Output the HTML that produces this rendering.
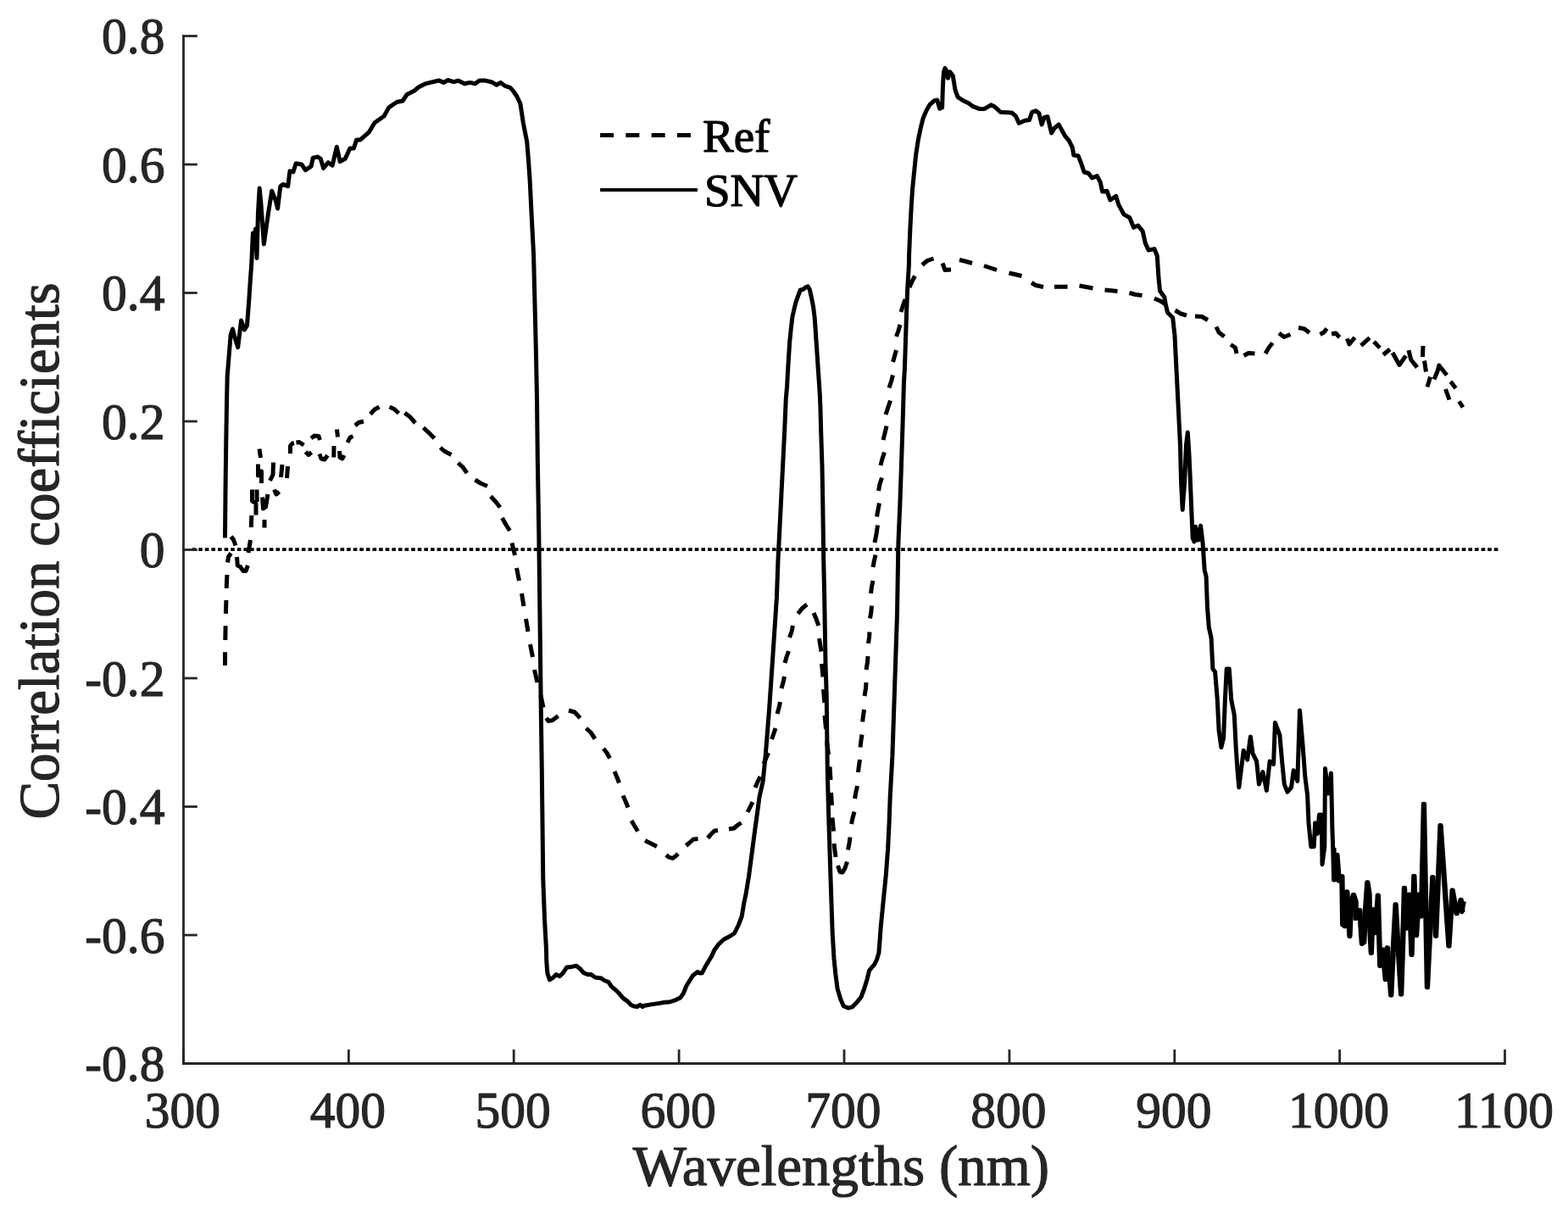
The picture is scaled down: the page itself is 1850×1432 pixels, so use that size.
<!DOCTYPE html><html><head><meta charset="utf-8"><title>Correlation coefficients</title>
<style>html,body{margin:0;padding:0;background:#fff;width:1850px;height:1432px;overflow:hidden}svg{display:block}text{font-family:"Liberation Serif","Times New Roman",serif;stroke-width:1.20px;stroke-linejoin:round}.g{fill:#262626;stroke:#262626}.k{fill:#000;stroke:#000}</style></head><body>
<svg width="1850" height="1432" viewBox="0 0 1850 1432">
<rect width="1850" height="1432" fill="#fff"/>
<line x1="226.6" y1="648.1" x2="1767.6" y2="648.1" stroke="#000" stroke-width="3.9" stroke-dasharray="4.6 3.005"/>
<path d="M265.5 785.1L265.6 769.2M265.8 755.0L266.1 738.2M266.4 723.9L266.9 708.0M267.2 693.9L267.9 678.0M268.5 663.5L269.5 657.0L272.5 652.5M272.5 633.0L275.5 636.5L278.0 643.5M279.5 657.0L280.3 667.0L283.5 668.5L287.0 673.5L290.0 673.5L292.5 667.0M293.0 652.0L295.5 637.0M296.3 622.0L296.8 608.0M297.5 577.5L297.5 591.0L302.0 594.0L302.0 607.5M303.0 577.5L303.2 592.0M309.5 586.5L310.5 600.0L313.5 598.0L316.0 583.0M312.0 613.0L312.0 622.5M323.5 577.5L326.0 583.0L329.5 580.0M304.5 547.5L304.5 561.0L308.5 556.0L308.5 570.0M322.5 545.5L322.0 560.0L318.5 567.0M333.0 548.0L331.5 563.0M339.5 550.0L338.5 564.0M306.0 529.5L307.5 540.0M342.5 535.0L342.5 526.0L345.0 523.0L347.0 522.5M349.5 522.0L353.0 521.5L358.5 525.0M360.5 533.0L364.0 536.5L367.5 533.5M367.0 517.0L371.0 514.0L376.0 514.5L377.5 519.0M377.0 535.5L379.0 541.0L383.0 542.0L386.5 537.0M393.8 539.5L394.0 526.0M397.5 506.5L398.5 515.5M400.5 532.0L401.0 539.5L404.0 541.0L406.0 537.0M410.0 522.0L413.0 516.0L416.5 514.5M419.0 502.0L423.0 498.5L429.0 497.0M437.0 488.5L442.0 483.0L447.5 480.0M459.5 480.0L465.0 482.5L470.5 487.5M477.5 487.0L484.0 492.0L490.0 499.0M499.5 504.5L506.0 510.5L512.5 517.0M519.5 528.0L524.0 532.0L532.5 536.5M540.5 546.0L546.0 551.0L551.0 558.0M560.5 566.0L567.0 570.0L575.0 573.5M579.0 585.5L585.0 592.0L590.0 598.5M592.5 611.0L597.0 619.0L601.5 626.0M604.0 640.5L607.5 655.0M609.5 670.0L612.5 685.0M615.5 700.0L618.0 715.0M620.5 730.0L623.0 745.0M625.5 760.0L628.5 775.0M630.5 790.0L634.0 805.0M638.0 820.0L641.0 834.5M644.5 847.0L647.0 850.5L652.0 849.5L658.5 844.5M671.0 838.0L678.0 840.0L684.5 847.0M691.5 859.0L697.0 864.0L702.0 871.5M712.0 883.0L716.0 888.0L719.5 894.5M725.0 910.0L728.0 917.0L730.5 923.5M735.0 938.5L738.0 945.0L741.0 952.5M745.0 968.0L748.5 974.0L752.5 980.5M761.0 991.5L768.0 995.0L775.0 998.5M786.0 1008.5L789.0 1011.0L793.5 1012.5L797.0 1010.0L800.0 1007.0M809.5 997.5L813.0 994.5L818.0 990.0L823.5 989.5M835.0 988.5L839.0 984.0L843.0 980.0L847.0 979.5M860.0 978.0L866.0 977.0L870.0 973.5L874.5 970.5M882.0 958.0L885.0 952.0L888.0 946.0M891.0 929.0L894.0 922.0L897.0 916.0M901.0 901.0L904.0 894.0L906.5 888.0M910.5 872.0L913.0 865.0L915.0 859.0M917.0 842.0L919.0 835.0L920.5 828.0M922.0 812.0L924.0 805.0L925.5 798.0M926.0 782.0L928.0 775.0L930.5 768.0M931.5 752.0L934.0 745.0L935.5 738.0M941.5 724.0L946.0 718.0L952.0 713.0M960.0 723.0L963.0 730.0L965.8 738.0M966.5 753.0L969.0 768.5M969.5 783.0L971.0 798.5M971.5 813.0L972.8 829.0M973.0 844.0L974.5 860.0M975.5 874.0L977.5 890.0M979.0 904.5L980.0 920.0M980.5 935.0L981.5 950.0M982.0 964.5L983.5 980.5M984.0 995.0L986.0 1011.0M988.5 1021.0L991.0 1028.5L994.0 1029.0L997.0 1024.0L999.5 1016.5M1000.5 1002.5L1002.0 995.0L1003.0 987.5M1004.5 972.0L1006.0 965.0L1008.0 957.5M1008.5 942.0L1010.0 934.0L1011.5 927.0M1012.4 911.0L1013.5 903.0L1014.5 896.0M1015.0 881.5L1016.0 873.0L1017.0 866.5M1017.6 851.5L1018.5 844.0L1019.6 837.0M1020.0 821.0L1021.5 812.0L1022.0 805.0M1022.0 790.0L1023.5 781.0L1024.0 774.0M1024.5 759.0L1025.5 752.0L1026.0 745.5M1026.5 729.5L1027.8 722.0L1028.5 714.5M1027.5 700.0L1028.5 692.0L1030.0 685.0M1030.0 669.0L1031.5 661.0L1033.0 654.5M1032.0 640.0L1034.0 630.0L1035.5 619.5M1034.5 609.5L1036.0 601.0L1037.5 593.5M1036.5 579.0L1038.0 571.0L1040.5 563.5M1039.0 549.0L1041.0 541.0L1043.5 533.5M1042.0 519.0L1044.0 511.0L1046.0 502.5M1045.0 489.0L1048.0 480.0L1050.5 472.5M1049.0 457.5L1051.5 450.0L1053.5 442.5M1053.5 427.0L1055.5 420.0L1057.5 413.0M1057.5 397.0L1060.0 390.0L1062.0 383.0M1063.0 368.0L1065.5 360.0L1068.0 353.0M1073.0 339.0L1076.0 332.0L1079.5 325.5M1088.0 312.5L1094.0 307.5L1101.5 305.0M1112.0 310.5L1115.0 318.5L1122.0 318.0M1132.0 306.5L1140.0 308.5L1147.0 310.5M1161.0 313.5L1176.0 318.5M1190.5 322.0L1205.5 325.5M1217.0 333.5L1222.0 336.5L1231.0 338.5M1244.0 338.3L1259.5 338.3M1273.5 337.0L1289.5 340.0M1303.5 342.0L1318.5 343.5M1332.5 345.5L1340.0 347.5L1347.5 348.5M1362.0 352.0L1369.0 355.0L1375.5 359.0M1386.5 366.0L1393.0 370.0L1400.0 372.0M1410.0 373.0L1418.0 373.5L1425.0 377.5M1435.0 385.5L1438.0 392.0L1444.5 397.0M1452.0 406.5L1457.5 410.0L1459.0 417.0M1467.5 419.5L1473.0 416.5L1480.5 417.0M1493.0 417.0L1497.0 410.0L1501.5 404.5M1509.0 393.0L1515.0 397.5L1522.5 394.5M1532.0 386.5L1539.0 388.0L1545.0 392.5M1557.5 394.5L1562.0 392.0L1565.5 387.5M1571.0 394.0L1576.0 393.0L1580.5 398.0M1589.3 399.4L1592.0 406.0L1598.5 398.0M1605.8 407.7L1616.0 398.5M1621.0 403.0L1628.0 410.4M1632.0 418.5L1638.0 413.5L1640.0 412.0M1643.0 416.0L1651.0 430.5L1658.7 419.6M1662.0 413.2L1664.7 424.2L1672.0 433.4M1679.0 408.0L1678.5 421.0M1680.5 425.5L1682.5 438.5M1687.6 444.5L1684.0 456.4M1692.0 447.5L1696.0 438.0L1697.8 431.0L1707.0 442.5M1705.5 459.0L1710.0 471.5M1711.5 450.0L1717.5 458.0M1721.5 473.5L1726.0 480.5" fill="none" stroke="#000" stroke-width="5.0" stroke-linejoin="round" stroke-linecap="butt"/>
<path d="M265.5 634.5L266.0 580.0L266.7 525.5L267.6 470.9L268.2 443.6L270.4 416.4L272.2 394.5L274.5 388.2L277.0 398.0L280.7 409.7L284.6 378.0L288.4 389.0L291.5 384.0L293.8 353.6L295.3 330.6L296.8 310.6L297.6 292.0L298.4 275.0L300.0 290.0L301.5 270.0L303.0 304.5L304.5 250.0L306.2 221.9L307.9 240.0L311.4 288.0L316.0 255.0L320.7 225.3L325.2 236.4L327.6 246.0L330.8 219.7L334.1 217.4L339.7 219.7L342.0 201.8L345.9 202.9L349.2 192.8L355.9 194.0L360.4 200.7L367.1 196.2L369.3 186.1L374.9 185.0L378.3 187.3L381.6 198.4L387.2 191.7L392.2 195.1L397.3 173.3L401.2 190.6L407.3 187.3L412.9 175.0L417.4 175.0L420.7 164.9L425.2 164.9L430.8 159.9L435.3 156.0L442.0 144.8L453.1 137.0L458.7 126.9L464.3 123.0L468.8 120.2L475.1 119.0L480.1 111.5L488.9 107.1L493.9 102.7L501.5 98.9L510.3 96.7L517.8 94.9L523.5 97.4L528.5 94.5L535.4 96.6L540.5 95.1L548.0 98.7L554.3 97.4L560.6 98.7L565.6 95.1L573.1 95.1L580.7 97.0L585.7 100.2L590.7 97.4L595.8 101.4L602.0 103.3L605.0 106.7L609.5 113.0L613.9 122.3L617.3 144.6L619.5 156.0L621.7 167.0L623.5 189.0L625.1 211.6L627.3 256.3L629.6 300.9L630.7 345.5L631.8 390.2L632.5 419.6L633.5 470.0L634.3 541.0L635.8 630.0L636.9 720.0L638.2 832.0L639.3 909.3L640.8 1038.0L642.5 1083.7L644.5 1120.0L644.8 1134.1L645.9 1148.1L648.4 1155.8L651.9 1153.7L656.1 1149.5L660.3 1151.6L664.5 1147.4L668.7 1141.1L674.4 1140.4L680.0 1139.3L684.2 1142.5L688.4 1147.4L693.3 1149.5L696.8 1149.2L702.5 1153.0L708.8 1153.7L713.0 1156.5L717.9 1158.3L721.4 1163.6L726.4 1167.8L730.6 1172.0L735.5 1177.6L740.4 1181.1L744.6 1185.4L747.4 1186.8L751.7 1187.5L755.2 1185.4L758.0 1187.5L760.0 1186.3L768.0 1184.9L776.6 1183.6L784.6 1182.3L789.9 1182.0L797.2 1179.6L802.5 1177.0L806.4 1171.7L809.8 1163.0L813.1 1157.7L817.7 1150.4L823.0 1146.4L826.0 1148.0L828.3 1147.8L831.7 1141.1L836.3 1133.2L839.6 1127.9L842.9 1120.6L848.3 1113.3L854.2 1108.0L859.5 1105.3L866.4 1101.0L871.4 1091.0L875.2 1080.9L877.7 1065.8L880.3 1053.2L883.4 1034.3L885.9 1015.5L888.4 996.6L890.9 977.7L893.5 958.9L896.0 940.0L900.2 921.4L903.4 888.9L907.7 834.8L912.1 769.9L916.4 704.9L918.0 660.0L919.6 629.2L921.6 589.4L923.6 549.6L925.6 509.8L927.3 470.0L928.6 455.6L929.7 434.7L930.7 419.0L931.7 403.3L933.3 387.6L934.9 374.0L937.0 364.5L939.1 356.2L941.7 348.8L944.3 342.0L947.4 341.5L950.6 338.9L953.2 337.9L955.3 341.5L957.4 350.9L959.5 361.4L961.1 374.0L962.1 387.6L963.1 403.3L964.2 419.0L965.2 434.7L966.3 450.4L967.3 466.1L967.9 479.9L968.7 509.8L970.0 549.6L970.7 589.4L971.3 629.2L971.7 660.0L972.6 700.0L973.4 747.5L974.0 783.1L975.2 818.8L975.8 870.0L976.3 910.3L977.6 960.5L978.8 998.2L979.8 1030.0L981.0 1065.6L982.2 1101.2L984.0 1130.9L985.8 1148.7L988.1 1166.5L991.7 1178.4L995.3 1186.7L1000.6 1189.0L1005.4 1187.9L1011.3 1181.9L1016.0 1176.0L1019.6 1166.5L1023.2 1154.6L1025.5 1145.1L1029.1 1140.4L1031.5 1138.0L1034.5 1132.0L1036.9 1124.1L1038.0 1110.0L1039.2 1093.4L1042.2 1062.8L1045.3 1032.1L1047.6 1001.4L1049.1 970.7L1050.2 940.0L1052.9 891.4L1055.7 807.6L1058.5 723.8L1059.9 640.0L1061.9 593.8L1063.5 547.7L1065.0 501.5L1066.5 450.0L1067.4 435.3L1068.5 401.7L1069.6 368.2L1070.7 340.3L1072.4 312.3L1072.6 300.0L1073.9 269.2L1075.3 242.6L1076.6 222.7L1078.6 202.8L1080.6 182.9L1083.2 165.7L1085.9 152.4L1089.2 139.2L1093.2 129.9L1097.1 123.3L1102.4 118.6L1105.8 118.0L1108.6 128.1L1111.6 127.0L1112.5 100.0L1113.5 85.0L1115.0 80.4L1117.0 84.0L1118.4 92.1L1120.8 84.8L1124.2 89.2L1127.1 106.7L1130.1 114.5L1135.9 118.4L1142.9 121.7L1147.7 125.4L1155.4 128.4L1161.5 128.4L1169.2 123.8L1173.8 126.1L1180.7 132.3L1193.8 133.0L1198.4 136.9L1202.2 145.3L1209.1 142.3L1214.5 141.5L1217.6 132.3L1222.2 130.7L1226.0 133.8L1229.1 146.9L1232.2 138.4L1236.0 137.6L1240.6 156.9L1244.5 150.7L1249.1 146.9L1253.7 155.3L1256.8 160.7L1261.4 166.1L1265.2 173.8L1266.8 183.0L1272.1 183.7L1276.0 193.7L1279.1 203.0L1284.4 204.5L1288.3 209.9L1294.4 207.6L1298.3 215.2L1300.6 226.0L1306.0 225.2L1309.8 236.0L1316.7 231.4L1319.8 241.4L1325.9 252.9L1332.8 256.7L1337.5 268.3L1342.8 266.0L1348.2 272.9L1351.3 286.7L1355.1 295.1L1362.0 293.6L1365.3 302.0L1367.0 327.8L1368.5 343.0L1373.8 350.5L1375.4 359.6L1377.6 368.7L1383.7 374.8L1386.0 396.0L1388.3 441.9L1390.4 483.9L1392.5 525.8L1393.5 567.7L1395.2 601.3L1397.7 567.7L1399.4 525.8L1401.3 510.1L1403.0 536.3L1404.4 567.7L1406.1 609.6L1407.2 634.8L1409.0 639.0L1410.7 621.2L1412.5 637.0L1414.1 636.9L1416.6 620.1L1419.1 641.1L1421.2 672.5L1423.1 680.0L1424.5 716.3L1426.3 739.9L1429.1 752.6L1430.9 789.0L1433.6 792.6L1436.3 825.3L1438.1 861.6L1440.9 881.6L1443.6 870.7L1445.4 825.3L1447.2 789.0L1450.3 789.0L1452.7 825.3L1456.3 843.4L1458.1 879.7L1459.9 907.0L1461.8 928.8L1464.5 907.0L1467.2 885.2L1471.7 896.1L1475.4 868.9L1478.1 888.8L1482.6 897.9L1485.4 925.1L1489.9 910.6L1494.4 932.4L1498.1 897.9L1502.6 901.5L1504.4 852.5L1509.9 867.0L1512.6 897.9L1515.3 925.1L1519.0 934.2L1523.5 928.8L1526.2 908.8L1530.8 921.5L1533.5 838.0L1537.1 879.7L1539.8 916.1L1542.6 937.9L1544.0 970.8L1546.8 998.7L1550.3 998.7L1551.6 970.8L1554.4 983.4L1556.5 961.0L1559.3 961.0L1560.0 1019.7L1562.8 998.7L1563.5 906.5L1567.0 935.9L1570.5 912.1L1571.9 977.8L1572.7 1000.0L1573.6 1038.1L1576.8 1008.2L1579.1 1039.0L1582.7 1033.6L1583.6 1090.7L1586.3 1092.6L1588.6 1051.7L1591.8 1104.4L1593.6 1063.5L1596.3 1055.4L1599.0 1063.5L1599.0 1083.5L1603.6 1073.5L1606.3 1113.4L1608.6 1111.6L1610.4 1072.6L1612.7 1040.8L1614.9 1054.4L1615.4 1090.7L1617.2 1124.3L1619.0 1072.6L1620.8 1096.2L1622.2 1100.4L1625.2 1056.0L1627.6 1139.4L1630.8 1119.9L1634.1 1155.6L1636.2 1117.7L1640.6 1174.0L1643.3 1116.6L1646.0 1066.8L1648.7 1114.5L1652.5 1173.0L1654.7 1105.8L1656.3 1047.3L1659.0 1095.0L1662.2 1054.9L1664.9 1126.4L1667.7 1033.2L1670.4 1103.6L1673.6 1054.9L1676.3 1080.9L1679.3 948.3L1683.3 1164.8L1689.7 1034.4L1693.4 1104.3L1698.9 973.4L1708.8 1116.1L1713.0 1050.1L1718.0 1077.7L1723.0 1061.4L1724.9 1075.8L1727.4 1063.3" fill="none" stroke="#000" stroke-width="5.0" stroke-linejoin="round" stroke-linecap="butt"/>
<path d="M1574.0 1000.0L1574.9 1038.1L1578.1 1008.2L1580.4 1039.0L1584.0 1033.6L1584.9 1090.7L1587.6 1092.6L1589.9 1051.7L1593.1 1104.4L1594.9 1063.5L1597.6 1055.4L1600.3 1063.5L1600.3 1083.5L1604.9 1073.5L1607.6 1113.4L1609.9 1111.6L1611.7 1072.6L1614.0 1040.8L1616.2 1054.4L1616.7 1090.7L1618.5 1124.3L1620.3 1072.6L1622.1 1096.2L1623.5 1100.4L1626.5 1056.0L1628.9 1139.4L1632.1 1119.9L1635.4 1155.6L1637.5 1117.7L1641.9 1174.0L1644.6 1116.6L1647.3 1066.8L1650.0 1114.5L1653.8 1173.0L1656.0 1105.8L1657.6 1047.3L1660.3 1095.0L1663.5 1054.9L1666.2 1126.4L1669.0 1033.2L1671.7 1103.6L1674.9 1054.9L1677.6 1080.9L1680.6 948.3L1684.6 1164.8L1691.0 1034.4L1694.7 1104.3L1700.2 973.4L1710.1 1116.1L1714.3 1050.1L1719.3 1077.7L1724.3 1061.4L1726.2 1075.8" fill="none" stroke="#000" stroke-width="5.0" stroke-linejoin="round" stroke-linecap="butt"/>
<g stroke="#262626" stroke-width="2.8" fill="none" stroke-linecap="square">
<path d="M216.5 42.5 L216.5 1254.5 L1775.5 1254.5"/>
<line x1="216.5" y1="42.5" x2="231.4" y2="42.5"/>
<line x1="216.5" y1="194.0" x2="231.4" y2="194.0"/>
<line x1="216.5" y1="345.5" x2="231.4" y2="345.5"/>
<line x1="216.5" y1="497.0" x2="231.4" y2="497.0"/>
<line x1="216.5" y1="648.5" x2="231.4" y2="648.5"/>
<line x1="216.5" y1="800.0" x2="231.4" y2="800.0"/>
<line x1="216.5" y1="951.5" x2="231.4" y2="951.5"/>
<line x1="216.5" y1="1103.0" x2="231.4" y2="1103.0"/>
<line x1="216.5" y1="1254.5" x2="231.4" y2="1254.5"/>
<line x1="216.5" y1="1254.5" x2="216.5" y2="1239.4"/>
<line x1="411.4" y1="1254.5" x2="411.4" y2="1239.4"/>
<line x1="606.2" y1="1254.5" x2="606.2" y2="1239.4"/>
<line x1="801.1" y1="1254.5" x2="801.1" y2="1239.4"/>
<line x1="996.0" y1="1254.5" x2="996.0" y2="1239.4"/>
<line x1="1190.9" y1="1254.5" x2="1190.9" y2="1239.4"/>
<line x1="1385.8" y1="1254.5" x2="1385.8" y2="1239.4"/>
<line x1="1580.6" y1="1254.5" x2="1580.6" y2="1239.4"/>
<line x1="1775.5" y1="1254.5" x2="1775.5" y2="1239.4"/>
</g>
<g class="g" font-size="62px">
<text transform="translate(194.5 42.5) scale(0.960 1)" text-anchor="end" dominant-baseline="central">0.8</text>
<text transform="translate(194.5 194.0) scale(0.960 1)" text-anchor="end" dominant-baseline="central">0.6</text>
<text transform="translate(194.5 345.5) scale(0.960 1)" text-anchor="end" dominant-baseline="central">0.4</text>
<text transform="translate(194.5 497.0) scale(0.960 1)" text-anchor="end" dominant-baseline="central">0.2</text>
<text transform="translate(194.5 648.5) scale(0.960 1)" text-anchor="end" dominant-baseline="central">0</text>
<text transform="translate(194.5 800.0) scale(0.960 1)" text-anchor="end" dominant-baseline="central">-0.2</text>
<text transform="translate(194.5 951.5) scale(0.960 1)" text-anchor="end" dominant-baseline="central">-0.4</text>
<text transform="translate(194.5 1103.0) scale(0.960 1)" text-anchor="end" dominant-baseline="central">-0.6</text>
<text transform="translate(194.5 1254.5) scale(0.960 1)" text-anchor="end" dominant-baseline="central">-0.8</text>
<text transform="translate(215.5 1329.6) scale(0.960 1)" text-anchor="middle">300</text>
<text transform="translate(410.4 1329.6) scale(0.960 1)" text-anchor="middle">400</text>
<text transform="translate(605.2 1329.6) scale(0.960 1)" text-anchor="middle">500</text>
<text transform="translate(800.1 1329.6) scale(0.960 1)" text-anchor="middle">600</text>
<text transform="translate(995.0 1329.6) scale(0.960 1)" text-anchor="middle">700</text>
<text transform="translate(1189.9 1329.6) scale(0.960 1)" text-anchor="middle">800</text>
<text transform="translate(1384.8 1329.6) scale(0.960 1)" text-anchor="middle">900</text>
<text transform="translate(1579.6 1329.6) scale(0.960 1)" text-anchor="middle">1000</text>
<text transform="translate(1774.5 1329.6) scale(0.960 1)" text-anchor="middle">1100</text>
</g>
<text class="g" font-size="67px" text-anchor="middle" transform="translate(69.0 650.0) rotate(-90)">Correlation coefficients</text>
<text class="g" font-size="67px" text-anchor="middle" x="992.5" y="1398.0">Wavelengths (nm)</text>
<line x1="708.1" y1="159.45" x2="816" y2="159.45" stroke="#000" stroke-width="4.9" stroke-dasharray="16 14.27"/>
<line x1="708.1" y1="223.9" x2="823" y2="223.9" stroke="#000" stroke-width="4.0"/>
<text class="k" font-size="55px" x="829" y="179">Ref</text>
<text class="k" font-size="55px" x="831" y="242.6">SNV</text>
</svg></body></html>
